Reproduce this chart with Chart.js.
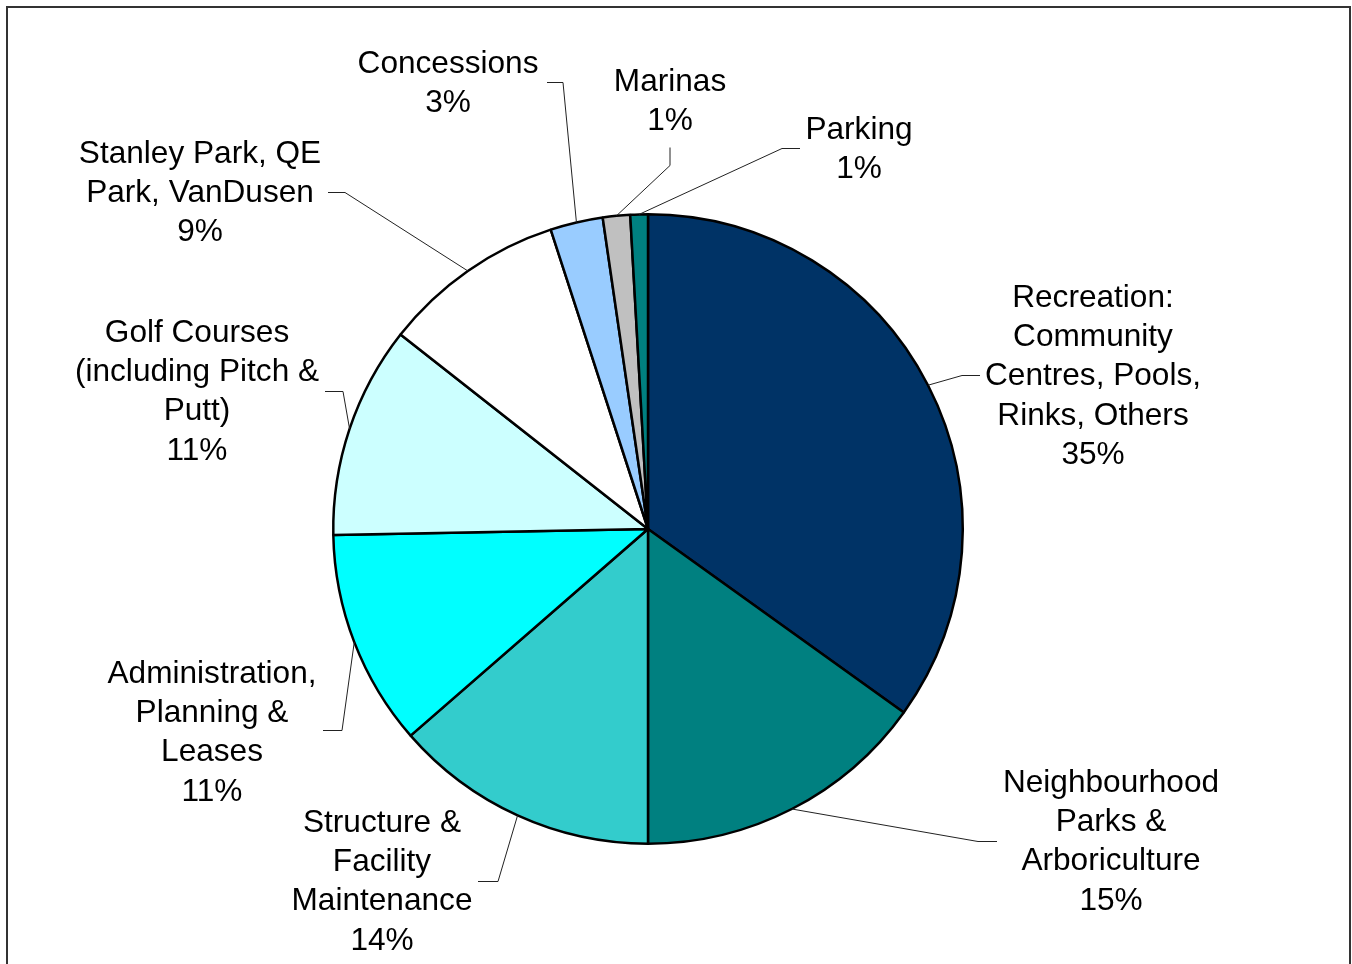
<!DOCTYPE html>
<html>
<head>
<meta charset="utf-8">
<script src="https://cdn.jsdelivr.net/npm/chart.js@4"></script>
<style>
  html, body { margin: 0; padding: 0; background: #fff; overflow: hidden; }
  canvas { display: block; }
</style>
</head>
<body>
<canvas id="pie" width="1352" height="964"></canvas>
<script>
// categories, each one already split into the lines shown on the chart
const categories = [
    ['Recreation:', 'Community', 'Centres, Pools,', 'Rinks, Others'],
    ['Neighbourhood', 'Parks &', 'Arboriculture'],
    ['Structure &', 'Facility', 'Maintenance'],
    ['Administration,', 'Planning &', 'Leases'],
    ['Golf Courses', '(including Pitch &', 'Putt)'],
    ['Stanley Park, QE', 'Park, VanDusen'],
    ['Concessions'],
    ['Marinas'],
    ['Parking']
]
const values = [34.9, 15.1, 13.6, 11.1, 10.9, 9.4, 2.7, 1.4, 0.9]
const colors = ['#003366', '#008080', '#33CCCC', '#00FFFF', '#CCFFFF', '#FFFFFF', '#99CCFF', '#C0C0C0', '#008080']

// where each label sits, relative to the pie centre (text = centre of first line,
// lead = end of leader next to the text, elbow = where the leader bends)
const labelLayout = [
    { text: [445, -231], lead: [332, -154], elbow: [314, -154] },
    { text: [463, 254], lead: [349, 312], elbow: [330, 312] },
    { text: [-266, 294], lead: [-170, 352], elbow: [-150, 352] },
    { text: [-436, 145], lead: [-325, 201], elbow: [-306, 201] },
    { text: [-451, -196], lead: [-323, -138], elbow: [-305, -138] },
    { text: [-448, -375], lead: [-320, -337], elbow: [-303, -337] },
    { text: [-200, -465], lead: [-101, -447], elbow: [-85, -447] },
    { text: [22, -447], lead: [22, -382], elbow: [22, -364] },
    { text: [211, -399], lead: [152, -381], elbow: [134, -381] }
]

const frame = {
    id: 'frame',
    beforeDraw(chart) {
        const ctx = chart.ctx
        ctx.save()
        ctx.fillStyle = '#fff'
        ctx.fillRect(0, 0, chart.width, chart.height)
        ctx.strokeStyle = '#333'
        ctx.lineWidth = 2
        ctx.strokeRect(7, 7, 1343, 1000)
        ctx.restore()
    }
}

const sliceLabels = {
    id: 'sliceLabels',
    afterDatasetsDraw(chart) {
        const ctx = chart.ctx
        const arcs = chart.getDatasetMeta(0).data
        const total = values.reduce((a, b) => a + b, 0)
        ctx.save()
        ctx.font = '31.6px "Liberation Sans", Arial, sans-serif'
        ctx.textAlign = 'center'
        ctx.textBaseline = 'middle'
        ctx.fillStyle = '#000'
        ctx.strokeStyle = '#222'
        ctx.lineWidth = 1
        arcs.forEach((arc, i) => {
            const p = arc.getProps(['x', 'y', 'startAngle', 'endAngle', 'outerRadius'], true)
            const mid = (p.startAngle + p.endAngle) / 2
            const ex = p.x + Math.cos(mid) * p.outerRadius
            const ey = p.y + Math.sin(mid) * p.outerRadius
            const lay = labelLayout[i]
            ctx.beginPath()
            ctx.moveTo(p.x + lay.lead[0], p.y + lay.lead[1] + 0.5)
            ctx.lineTo(p.x + lay.elbow[0], p.y + lay.elbow[1] + 0.5)
            ctx.lineTo(ex, ey)
            ctx.stroke()
            const lines = categories[i].concat([Math.round(values[i] / total * 100) + '%'])
            lines.forEach((t, k) => {
                ctx.fillText(t, p.x + lay.text[0], p.y + lay.text[1] + k * 39.3)
            })
        })
        ctx.restore()
    }
}

new Chart(document.getElementById('pie').getContext('2d'), {
    type: 'pie',
    data: {
        labels: categories.map(c => c.join(' ')),
        datasets: [{
            data: values,
            backgroundColor: colors,
            borderColor: '#000',
            borderWidth: 2.5
        }]
    },
    options: {
        responsive: false,
        animation: false,
        layout: {
            padding: { left: 332, right: 388, top: 213, bottom: 119 }
        },
        plugins: {
            legend: { display: false },
            tooltip: { enabled: false }
        }
    },
    plugins: [frame, sliceLabels]
});
</script>
</body>
</html>
